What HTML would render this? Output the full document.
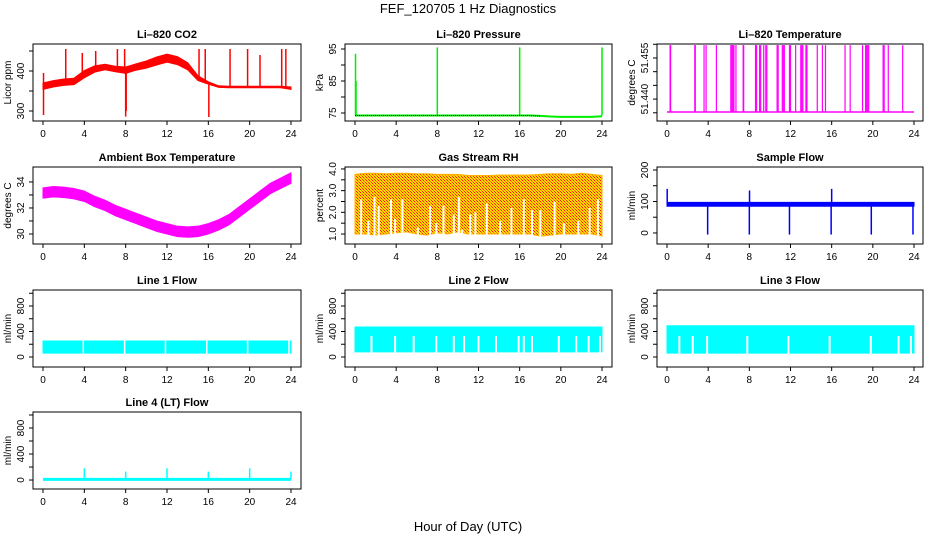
<!DOCTYPE html>
<html><head><meta charset="utf-8"><title>FEF_120705 1 Hz Diagnostics</title>
<style>
html,body{margin:0;padding:0;background:#fff;width:936px;height:540px;overflow:hidden}
svg{display:block;font-family:"Liberation Sans",sans-serif}
</style></head>
<body>
<svg id="chart" width="936" height="540" viewBox="0 0 936 540" xmlns="http://www.w3.org/2000/svg">
<defs>
<pattern id="rhpat" width="3" height="3" patternUnits="userSpaceOnUse">
<rect width="3" height="3" fill="#ffd800"/><rect width="1" height="1" fill="#ff1000"/><rect x="1" y="1" width="1" height="1" fill="#ff8000"/><rect x="2" y="2" width="1" height="1" fill="#ff3000"/>
</pattern>
</defs>
<text x="468" y="13" text-anchor="middle" font-size="13">FEF_120705  1 Hz Diagnostics</text>
<text x="468" y="531" text-anchor="middle" font-size="13">Hour of Day (UTC)</text>
</svg>
<script>
// ---- data ----
const hours = [0,1,2,3,4,5,6,7,8,9,10,11,12,13,14,15,16,17,18,19,20,21,22,23,24];
const xTicks = [0,4,8,12,16,20,24];
// CO2
const co2Center = [362,368,372,374,392,405,410,405,402,410,416,425,432,426,412,382,370,361,360,360,360,360,360,360,357];
const co2Half = [8,8,8,8,9,8,7,7,8,8,9,10,10,10,9,6,3,2,2,2,2,2,2,2,3];
const co2SpikeT = [0.05,0.05,2.2,3.8,5.1,7.2,7.9,8.0,8.05,15.1,15.7,16.05,18.1,19.8,21.0,23.1,23.5];
const co2SpikeV = [290,395,455,445,450,455,455,286,300,455,455,285,455,455,440,455,455];
// Pressure
const presBase = [74.2,74.2,74.2,74.2,74.2,74.2,74.2,74.2,74.2,74.2,74.2,74.2,74.2,74.2,74.2,74.2,74.2,74.2,74.1,73.9,73.8,73.8,73.8,73.8,74.0];
const presSpikeT = [0.05,0.1,8.0,16.0,24.0];
const presSpikeV = [93.5,85,95.5,95.5,95.5];
// Li-820 temperature
const litBase = 51.4353;
const litSpikeT = [0.3,0.35,2.7,2.75,3.6,3.8,4.8,6.2,6.3,6.4,6.5,6.7,7.4,7.45,8.6,8.7,9.0,9.1,9.4,9.6,9.7,10.7,10.8,11.2,11.3,11.4,11.9,12.0,12.5,13.0,13.1,13.2,13.5,13.6,14.6,15.1,15.4,17.3,17.8,19.0,19.3,19.4,19.5,19.6,21.0,21.1,21.5,22.9];
const litSpikeV = 51.4597;
// Ambient box temperature
const boxCenter = [33.15,33.25,33.2,33.1,32.9,32.5,32.2,31.8,31.5,31.2,30.9,30.6,30.4,30.2,30.15,30.2,30.4,30.7,31.1,31.7,32.3,32.9,33.5,33.9,34.3];
const boxHalf = 0.4;
// RH
const rhUpper = [3.75,3.8,3.8,3.78,3.8,3.8,3.78,3.78,3.75,3.75,3.75,3.7,3.7,3.7,3.72,3.72,3.72,3.72,3.75,3.78,3.78,3.75,3.8,3.75,3.7];
const rhLower = [1.0,1.0,0.95,1.0,1.05,1.1,1.0,0.95,1.05,1.0,1.1,1.0,1.0,1.0,1.0,1.0,1.0,1.0,0.9,0.95,1.0,1.0,1.0,1.0,0.9];
const rhGapT = [0.6,1.3,1.9,2.3,3.5,3.9,4.6,6.1,7.3,7.9,8.6,9.6,10.1,10.4,11.2,11.7,12.8,14.1,15.2,16.4,17.2,18.0,19.4,20.3,21.7,22.8,23.6];
const rhGapV = [2.6,1.6,2.7,2.3,2.6,1.7,2.6,1.3,2.3,1.5,2.3,1.9,2.7,1.2,1.9,2.0,2.4,1.6,2.2,2.6,2.1,2.1,2.5,1.5,1.6,2.2,2.6];
// Sample flow
const sfLow = 85, sfHigh = 97;
const sfSpikeT = [0.02,3.95,8.0,8.02,11.9,15.95,16.0,19.85,23.9];
const sfSpikeV = [140,-5,-5,135,-5,-5,140,-5,-5];
// Line flows
const gapT1 = [3.9,7.9,11.85,15.85,19.8,23.8];
const l1Low = 60, l1High = 250;
const l2Low = 80, l2High = 470, l2GapTop = 330;
const gapT2 = [1.6,3.9,5.7,7.9,9.6,10.6,12.0,13.7,15.9,16.4,17.2,19.8,21.5,22.7,23.8];
const l3Low = 60, l3High = 490, l3GapTop = 330;
const gapT3 = [1.2,2.5,3.9,7.8,11.8,15.8,19.8,22.5,23.7];
const l4Base = 10;
const l4SpikeT = [4.0,8.0,12.0,16.0,20.0,24.0];
const l4SpikeV = [180,130,180,130,180,130];

// ---- layout ----
const NS = "http://www.w3.org/2000/svg";
const svg = document.getElementById("chart");
const COLS = [{l:33,r:301,x0:43,x1:291},{l:345,r:612,x0:355,x1:602},{l:657,r:923,x0:667,x1:914}];
const ROWS = [44,167,290,412];
const H = 77;
function el(tag, parent){const e=document.createElementNS(NS,tag);(parent||svg).appendChild(e);return e;}

function panel(p){
  const c=COLS[p.col], top=ROWS[p.row], bot=top+H;
  const g=el("g");
  
  
  const X=t=>c.x0+(t/24)*(c.x1-c.x0);
  const Y=v=>top+(p.dmax-v)/(p.dmax-p.dmin)*H;
  const marks=el("g",g);
  
  
  p.draw(marks,X,Y);
  const box=el("rect",g);
  box.setAttribute("x",c.l);box.setAttribute("y",top);box.setAttribute("width",c.r-c.l);box.setAttribute("height",H);
  box.setAttribute("fill","none");box.setAttribute("stroke","#000");box.setAttribute("stroke-width","1");
  
  
  const tt=el("text",g);
  tt.textContent=p.title;tt.setAttribute("x",(c.l+c.r)/2);tt.setAttribute("y",top-6);
  tt.setAttribute("text-anchor","middle");tt.setAttribute("font-size","11");tt.setAttribute("font-weight","bold");
  
  
  xTicks.forEach(t=>{
    const ln=el("line",g);
    ln.setAttribute("x1",X(t));ln.setAttribute("x2",X(t));ln.setAttribute("y1",bot);ln.setAttribute("y2",bot+4);ln.setAttribute("stroke","#000");
    
    
    const tx=el("text",g);
    tx.textContent=t;tx.setAttribute("x",X(t));tx.setAttribute("y",bot+16);tx.setAttribute("text-anchor","middle");tx.setAttribute("font-size","10");
    
    
  });
  p.yTicks.forEach(v=>{
    const ln=el("line",g);
    ln.setAttribute("x1",c.l-4);ln.setAttribute("x2",c.l);ln.setAttribute("y1",Y(v));ln.setAttribute("y2",Y(v));ln.setAttribute("stroke","#000");
    
    
  });
  p.yLabels.forEach((lab,i)=>{
    const v=p.yLabelVals[i];
    const tx=el("text",g);
    tx.textContent=lab;tx.setAttribute("text-anchor","middle");tx.setAttribute("font-size","10");
    tx.setAttribute("transform","translate("+(c.l-9)+","+Y(v)+") rotate(-90)");
    
    
  });
  const yl=el("text",g);
  yl.textContent=p.ylab;yl.setAttribute("text-anchor","middle");yl.setAttribute("font-size","10");
  yl.setAttribute("transform","translate("+(c.l-22)+","+(top+H/2)+") rotate(-90)");
  
  
}
function band(g,X,Y,up,lo,fill,name){
  let d="M";
  hours.forEach((h,i)=>{d+=X(h)+","+Y(up[i])+" L";});
  for(let i=hours.length-1;i>=0;i--){d+=X(hours[i])+","+Y(lo[i])+(i>0?" L":" Z");}
  const pa=el("path",g);pa.setAttribute("d",d);pa.setAttribute("fill",fill);pa.setAttribute("stroke",fill==="url(#rhpat)"?"#ffb000":fill);pa.setAttribute("stroke-width","1");
  
  
}
function vline(g,x,y1,y2,col,w,name){
  const ln=el("line",g);ln.setAttribute("x1",x);ln.setAttribute("x2",x);ln.setAttribute("y1",y1);ln.setAttribute("y2",y2);
  ln.setAttribute("stroke",col);ln.setAttribute("stroke-width",w||1);
  
  
}
function hline(g,X,Y,vals,col,w,name){
  const pl=el("polyline",g);
  pl.setAttribute("points",hours.map((h,i)=>X(h)+","+Y(vals[i])).join(" "));
  pl.setAttribute("fill","none");pl.setAttribute("stroke",col);pl.setAttribute("stroke-width",w);
  
  
}
const flat=v=>hours.map(()=>v);

panel({name:"co2-panel",title:"Li–820 CO2",col:0,row:0,dmin:275,dmax:467.5,yTicks:[300,350,400,450],yLabels:["300","400"],yLabelVals:[300,400],ylab:"Licor ppm",
  draw:(g,X,Y)=>{
    band(g,X,Y,co2Center.map((v,i)=>v+co2Half[i]),co2Center.map((v,i)=>v-co2Half[i]),"#ff0000","co2-band");
    co2SpikeT.forEach((t,i)=>vline(g,X(t),Y(co2Center[Math.min(24,Math.round(t))]),Y(co2SpikeV[i]),"#ff0000",1.5,"co2-spike"));
  }});
panel({name:"pressure-panel",title:"Li–820 Pressure",col:1,row:0,dmin:72.5,dmax:96.56,yTicks:[75,80,85,90,95],yLabels:["75","85","95"],yLabelVals:[75,85,95],ylab:"kPa",
  draw:(g,X,Y)=>{
    hline(g,X,Y,presBase,"#00ee00",2,"pressure-line");
    presSpikeT.forEach((t,i)=>vline(g,X(t),Y(74.2),Y(presSpikeV[i]),"#00ee00",1.5,"pressure-spike"));
    const pl=el("polyline",g);pl.setAttribute("points",hours.slice(0,19).map((h,i)=>X(h)+","+Y(presBase[i])).join(" "));
    pl.setAttribute("fill","none");pl.setAttribute("stroke","#000");pl.setAttribute("stroke-width","1");pl.setAttribute("stroke-dasharray","1,1");
    
    
  }});
panel({name:"li820-temp-panel",title:"Li–820 Temperature",col:2,row:0,dmin:51.4320,dmax:51.4601,yTicks:[51.435,51.440,51.445,51.450,51.455,51.460],yLabels:["51.440","51.455"],yLabelVals:[51.440,51.455],ylab:"degrees C",
  draw:(g,X,Y)=>{
    hline(g,X,Y,flat(litBase),"#ff00ff",1.5,"li820-temp-line");
    litSpikeT.forEach(t=>vline(g,X(t),Y(litBase),Y(litSpikeV),"#ff00ff",1.2,"li820-temp-spike"));
  }});
panel({name:"box-temp-panel",title:"Ambient Box Temperature",col:0,row:1,dmin:29.23,dmax:35.15,yTicks:[30,31,32,33,34],yLabels:["30","32","34"],yLabelVals:[30,32,34],ylab:"degrees C",
  draw:(g,X,Y)=>{
    band(g,X,Y,boxCenter.map(v=>v+boxHalf),boxCenter.map(v=>v-boxHalf),"#ff00ff","box-temp-band");
  }});
panel({name:"rh-panel",title:"Gas Stream RH",col:1,row:1,dmin:0.54,dmax:4.09,yTicks:[1,1.5,2,2.5,3,3.5,4],yLabels:["1.0","2.0","3.0","4.0"],yLabelVals:[1,2,3,4],ylab:"percent",
  draw:(g,X,Y)=>{
    band(g,X,Y,rhUpper,rhLower,"url(#rhpat)","rh-band");
    rhGapT.forEach((t,i)=>vline(g,X(t),Y(0.7),Y(rhGapV[i]),"#ffffff",2,"rh-gap"));
  }});
panel({name:"sample-flow-panel",title:"Sample Flow",col:2,row:1,dmin:-35,dmax:209.5,yTicks:[0,50,100,150,200],yLabels:["0","100","200"],yLabelVals:[0,100,200],ylab:"ml/min",
  draw:(g,X,Y)=>{
    band(g,X,Y,flat(sfHigh),flat(sfLow),"#0000ff","sample-flow-band");
    sfSpikeT.forEach((t,i)=>vline(g,X(t),Y(90),Y(sfSpikeV[i]),"#0000ff",1.5,"sample-flow-spike"));
  }});
function flowPanel(name,title,col,row,dmin,dmax,low,high,gaps,gapTop,gapW){
  panel({name:name,title:title,col:col,row:row,dmin:dmin,dmax:dmax,yTicks:[0,200,400,600,800,1000],yLabels:["0","400","800"],yLabelVals:[0,400,800],ylab:"ml/min",
    draw:(g,X,Y)=>{
      band(g,X,Y,flat(high),flat(low),"#00ffff",name+"-band");
      gaps.forEach(t=>vline(g,X(t),Y(low-20),Y(gapTop),"#ffffff",gapW,name+"-gap"));
    }});
}
flowPanel("line1-flow-panel","Line 1 Flow",0,2,-157,1051,l1Low,l1High,gapT1,l1High+30,1.5);
flowPanel("line2-flow-panel","Line 2 Flow",1,2,-157,1051,l2Low,l2High,gapT2,l2GapTop,2);
flowPanel("line3-flow-panel","Line 3 Flow",2,2,-157,1051,l3Low,l3High,gapT3,l3GapTop,2);
panel({name:"line4-flow-panel",title:"Line 4 (LT) Flow",col:0,row:3,dmin:-138,dmax:1046,yTicks:[0,200,400,600,800,1000],yLabels:["0","400","800"],yLabelVals:[0,400,800],ylab:"ml/min",
  draw:(g,X,Y)=>{
    hline(g,X,Y,flat(l4Base),"#00ffff",3,"line4-flow-line");
    l4SpikeT.forEach((t,i)=>vline(g,X(t),Y(l4Base),Y(l4SpikeV[i]),"#00ffff",1.5,"line4-flow-spike"));
  }});
</script>
</body></html>
